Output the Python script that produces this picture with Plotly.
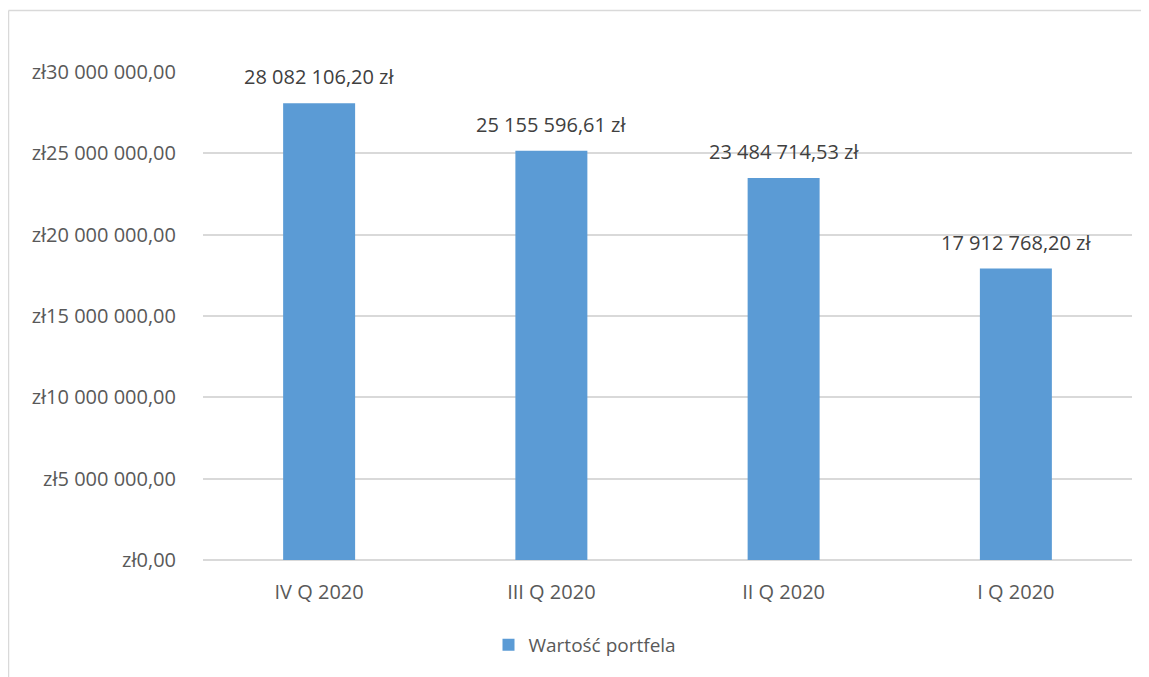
import plotly.graph_objects as go

categories = ["IV Q 2020", "III Q 2020", "II Q 2020", "I Q 2020"]
values = [28082106.20, 25155596.61, 23484714.53, 17912768.20]
value_labels = ["28 082 106,20 zł", "25 155 596,61 zł", "23 484 714,53 zł", "17 912 768,20 zł"]
tick_vals = [0, 5000000, 10000000, 15000000, 20000000, 25000000, 30000000]
tick_text = ["zł0,00", "zł5 000 000,00", "zł10 000 000,00", "zł15 000 000,00",
             "zł20 000 000,00", "zł25 000 000,00", "zł30 000 000,00"]
series_name = "Wartość portfela"

FONT = "Open Sans"
FS = 20
fig = go.Figure()
fig.add_trace(go.Bar(x=categories, y=values, name=series_name,
                     marker=dict(color="#5b9bd5", line=dict(width=0)),
                     showlegend=True, hoverinfo="skip"))

for c, v, t in zip(categories, values, value_labels):
    fig.add_annotation(x=c, y=v, text=t, showarrow=False, yanchor="bottom",
                       yshift=11, font=dict(family=FONT, size=FS, color="#404040"))

OFF = 8  # page body margin
W, H = 1149, 677
L, R, T = 203 - OFF, 1149 - (1132 - OFF), 72 - OFF
B = H - (560 - OFF)
pw, ph = W - L - R, H - T - B

def px(x):
    return (x - OFF - L) / pw

def py(y):
    return (H - B - (y - OFF)) / ph

# chart border (left + top visible)
fig.add_shape(type="line", xref="paper", yref="paper", x0=px(8.5), x1=px(8.5),
              y0=py(10.5), y1=py(720), line=dict(color="#d9d9d9", width=1.5))
fig.add_shape(type="line", xref="paper", yref="paper", x0=px(8.5), x1=px(1220),
              y0=py(10.5), y1=py(10.5), line=dict(color="#d9d9d9", width=1.5))

fig.update_layout(
    width=W, height=H,
    margin=dict(l=L, r=R, t=T, b=B),
    paper_bgcolor="white", plot_bgcolor="white",
    font=dict(family=FONT, size=FS, color="#595959"),
    bargap=0.69,
    legend=dict(orientation="h", x=px(585), xanchor="center", y=py(645), yanchor="middle",
                font=dict(family=FONT, size=19, color="#595959"), itemwidth=30),
    xaxis=dict(showgrid=False, showline=False, ticks="", ticklabelstandoff=18,
               tickfont=dict(family=FONT, size=FS, color="#595959")),
    yaxis=dict(range=[0, 30000000], tickvals=tick_vals, ticktext=tick_text,
               showgrid=True, gridcolor="#d9d9d9", gridwidth=1.5,
               zeroline=True, zerolinecolor="#d9d9d9", zerolinewidth=1.5,
               showline=False, ticks="", ticklabelstandoff=26,
               tickfont=dict(family=FONT, size=FS, color="#595959")),
)

fig.write_html("out.html")
